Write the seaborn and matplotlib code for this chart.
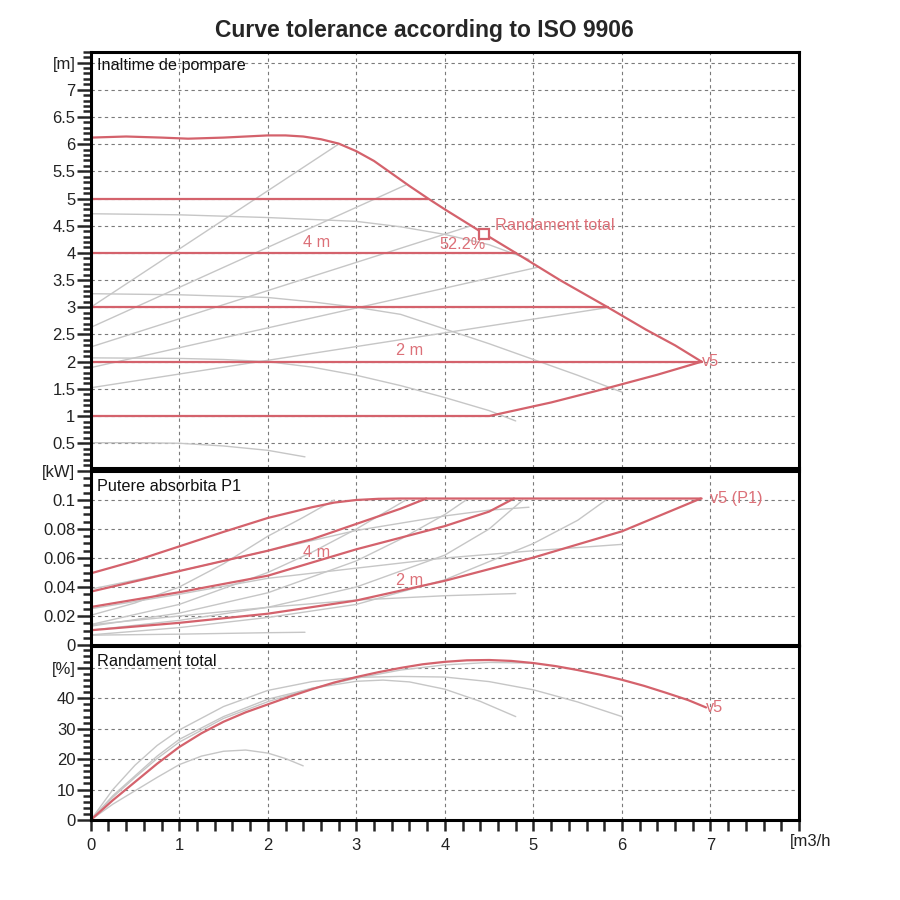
import seaborn as sns
import matplotlib.pyplot as plt
from matplotlib.ticker import MultipleLocator

# ---- head panel [m] ----
v5_q = [0, 0.4, 0.8, 1.1, 1.5, 2.0, 2.2, 2.4, 2.6, 2.8, 3.0, 3.2, 3.4, 3.6, 3.81, 4.0, 4.445,
        4.8, 5.3, 5.84, 6.27, 6.6, 6.9]
v5_h = [6.12, 6.14, 6.12, 6.10, 6.12, 6.16, 6.16, 6.14, 6.09, 6.01, 5.87, 5.69, 5.46, 5.23, 5.0,
        4.8, 4.35, 4.0, 3.5, 3.0, 2.59, 2.3, 2.0]
v5_min_q = [4.5, 5.2, 5.85, 6.4, 6.9]
v5_min_h = [1.0, 1.25, 1.52, 1.76, 2.0]
const_heads = [5, 4, 3, 2, 1]
const_ends = [3.81, 4.80, 5.84, 6.9, 4.5]

head_gray = [
    ([0, 2.8], [3.0, 6.0]),
    ([0, 3.56], [2.63, 5.25]),
    ([0, 4.3], [2.27, 4.5]),
    ([0, 5.06], [1.89, 3.74]),
    ([0, 5.82], [1.52, 2.99]),
    ([0, 1, 2, 3, 3.5, 4, 4.5, 4.95], [4.72, 4.70, 4.65, 4.58, 4.48, 4.34, 4.15, 3.88]),
    ([0, 1, 2, 2.5, 3, 3.5, 4, 4.5, 5, 5.5, 6], [3.25, 3.23, 3.18, 3.1, 3.0, 2.87, 2.6, 2.33, 2.04, 1.75, 1.44]),
    ([0, 1, 1.5, 2, 2.5, 3, 3.5, 4, 4.5, 4.8], [2.07, 2.06, 2.04, 2.0, 1.9, 1.75, 1.56, 1.34, 1.1, 0.91]),
    ([0, 0.5, 1, 1.5, 2, 2.42], [0.51, 0.51, 0.5, 0.45, 0.37, 0.25]),
]

# ---- power panel [kW] ----
p_max_q = [0, 0.5, 1, 1.5, 2, 2.5, 2.75, 3, 3.25, 3.5, 4, 5, 6, 6.9]
p_max = [0.0494, 0.058, 0.068, 0.078, 0.0876, 0.095, 0.0982, 0.1, 0.1008, 0.101, 0.101, 0.101, 0.101, 0.101]
p_5m_q = [0, 1, 2, 2.5, 3, 3.5, 3.79]
p_5m = [0.0368, 0.051, 0.065, 0.073, 0.0835, 0.094, 0.101]
p_4m_q = [0, 1, 2, 3, 3.5, 4, 4.5, 4.78]
p_4m = [0.0262, 0.0364, 0.0478, 0.066, 0.074, 0.082, 0.092, 0.101]
p_2m_q = [0, 1, 2, 3, 4, 5, 6, 6.89]
p_2m = [0.0102, 0.0153, 0.0216, 0.0307, 0.0443, 0.0603, 0.0784, 0.101]

power_gray = [
    ([0, 0.5, 1, 1.5, 2, 2.4, 2.75], [0.0205, 0.029, 0.040, 0.056, 0.075, 0.088, 0.100]),
    ([0, 1, 2, 2.5, 3, 3.56], [0.0141, 0.028, 0.050, 0.064, 0.080, 0.100]),
    ([0, 1, 2, 3, 3.5, 4, 4.24], [0.013, 0.022, 0.036, 0.058, 0.073, 0.090, 0.100]),
    ([0, 1, 2, 3, 4, 4.5, 4.88], [0.0102, 0.017, 0.026, 0.040, 0.062, 0.080, 0.100]),
    ([0, 1, 2, 3, 4, 5, 5.5, 5.82], [0.007, 0.012, 0.019, 0.028, 0.045, 0.070, 0.086, 0.100]),
    ([0, 1, 2, 3, 4, 4.5, 4.95], [0.0385, 0.051, 0.065, 0.079, 0.089, 0.093, 0.095]),
    ([0, 1, 2, 3, 4, 5, 6], [0.025, 0.035, 0.046, 0.053, 0.060, 0.065, 0.0694]),
    ([0, 1, 2, 3, 4, 4.8], [0.014, 0.020, 0.026, 0.031, 0.034, 0.0355]),
    ([0, 1, 2, 2.42], [0.0068, 0.0075, 0.0085, 0.0088]),
]

# ---- efficiency panel [%] ----
eff_q = [0, 0.25, 0.5, 0.75, 1, 1.25, 1.5, 1.75, 2, 2.25, 2.5, 2.75, 3, 3.25, 3.5, 3.75, 4,
         4.25, 4.5, 4.75, 5, 5.25, 5.5, 5.75, 6, 6.25, 6.5, 6.75, 6.95]
eff = [0, 6.5, 12.5, 18.5, 24, 28.5, 32.3, 35.4, 38, 40.6, 43, 45.2, 47, 48.6, 50, 51.2, 52,
       52.5, 52.6, 52.3, 51.6, 50.6, 49.3, 47.8, 46.1, 44.1, 41.8, 39.4, 37]

eff_gray = [
    ([0, 0.25, 0.5, 0.75, 1, 1.5, 2, 2.5, 3, 3.5, 4, 4.5, 5, 5.5, 6],
     [0, 10, 18, 24.5, 29.6, 37.3, 42.6, 45.5, 46.9, 47.2, 47, 45.5, 42.8, 38.8, 34]),
    ([0, 0.25, 0.5, 0.75, 1, 1.5, 2, 2.5, 3, 3.3, 3.6, 4, 4.4, 4.8],
     [0, 8, 14.5, 21, 26.5, 34, 39.7, 43.3, 45.6, 46, 45.4, 43, 39, 34]),
    ([0, 0.25, 0.5, 0.75, 1, 1.5, 2, 2.5, 3, 3.5, 4, 4.5, 4.95],
     [0, 7.5, 14, 20.2, 25.6, 33.4, 38.9, 43.3, 46.6, 49.3, 51, 51.8, 51.6]),
    ([0, 0.25, 0.5, 0.75, 1, 1.25, 1.5, 1.75, 2, 2.2, 2.4],
     [0, 5.2, 9.6, 14, 18.2, 21, 22.6, 23, 22, 20.2, 17.8]),
]

sns.set_style('white')
plt.rcParams['font.family'] = ['Liberation Sans', 'DejaVu Sans']

RED = '#d4626c'
LABEL_RED = '#dc7078'
GRAY = '#c6c6c6'
FS = 11.7


def line(ax, x, y, color=RED, lw=1.6):
    sns.lineplot(x=x, y=y, ax=ax, color=color, linewidth=lw, sort=False,
                 estimator=None, legend=False)


def style(ax, ylim, yticks, ylabels, minor):
    ax.set_xlim(0, 8)
    ax.set_ylim(*ylim)
    ax.set_xticks(range(0, 9))
    ax.set_yticks(yticks)
    ax.set_yticklabels(ylabels)
    ax.yaxis.set_minor_locator(MultipleLocator(minor))
    ax.xaxis.set_minor_locator(MultipleLocator(0.2))
    ax.set_axisbelow(True)
    ax.grid(True, which='major', color='#7a7a7a', linestyle=(0, (3, 3)), linewidth=0.8)
    ax.tick_params(axis='y', which='major', direction='out', length=10, width=1.8,
                   left=True, labelsize=12, labelcolor='#222222', pad=1)
    ax.tick_params(axis='y', which='minor', direction='out', length=6, width=1.8, left=True)
    ax.tick_params(axis='x', which='both', bottom=False, labelbottom=False)
    ax.set_xlabel('')
    ax.set_ylabel('')
    for s in ax.spines.values():
        s.set_linewidth(2.2)
        s.set_color('black')


fig = plt.figure(figsize=(9, 9), dpi=100)
ax_h = fig.add_axes([0.1008, 0.4803, 0.787, 0.4623])
ax_p = fig.add_axes([0.1008, 0.2833, 0.787, 0.1934])
ax_e = fig.add_axes([0.1008, 0.0889, 0.787, 0.1933])

# head
for gx, gy in head_gray:
    line(ax_h, gx, gy, GRAY, 1.0)
for h, end in zip(const_heads, const_ends):
    line(ax_h, [0, end], [h, h], RED, 1.6)
line(ax_h, [0, 0], [1, 5], RED, 1.6)
line(ax_h, v5_q, v5_h, RED, 1.6)
line(ax_h, v5_min_q, v5_min_h, RED, 1.6)
ax_h.plot([4.445], [4.35], marker='s', markersize=7, markerfacecolor='white',
          markeredgecolor=RED, markeredgewidth=1.6, zorder=5)
ax_h.text(4.57, 4.5, 'Randament total', color=LABEL_RED, fontsize=FS, va='center', ha='left')
ax_h.text(4.2, 4.15, '52.2%', color=LABEL_RED, fontsize=FS, va='center', ha='center')
ax_h.text(2.55, 4.2, '4 m', color=LABEL_RED, fontsize=FS, va='center', ha='center')
ax_h.text(3.6, 2.2, '2 m', color=LABEL_RED, fontsize=FS, va='center', ha='center')
ax_h.text(6.9, 2.0, 'v5', color=LABEL_RED, fontsize=FS, va='center', ha='left')
ax_h.text(0.009, 0.966, 'Inaltime de pompare', transform=ax_h.transAxes,
          fontsize=FS, va='center', ha='left', color='#111111')
h_ticks = [0.5 * i for i in range(1, 16)]
h_labels = [('%g' % t) for t in h_ticks[:-1]] + ['[m]']
style(ax_h, (0.05, 7.7), h_ticks, h_labels, 0.1)

# power
for gx, gy in power_gray:
    line(ax_p, gx, gy, GRAY, 1.0)
line(ax_p, p_max_q, p_max, RED, 1.6)
line(ax_p, p_5m_q, p_5m, RED, 1.6)
line(ax_p, p_4m_q, p_4m, RED, 1.6)
line(ax_p, p_2m_q, p_2m, RED, 1.6)
ax_p.text(2.55, 0.0637, '4 m', color=LABEL_RED, fontsize=FS, va='center', ha='center')
ax_p.text(3.6, 0.0443, '2 m', color=LABEL_RED, fontsize=FS, va='center', ha='center')
ax_p.text(7.0, 0.101, 'v5 (P1)', color=LABEL_RED, fontsize=FS, va='center', ha='left')
ax_p.text(0.009, 0.91, 'Putere absorbita P1', transform=ax_p.transAxes,
          fontsize=FS, va='center', ha='left', color='#111111')
style(ax_p, (0, 0.12), [0, 0.02, 0.04, 0.06, 0.08, 0.1, 0.12],
      ['0', '0.02', '0.04', '0.06', '0.08', '0.1', '[kW]'], 0.005)

# efficiency
for gx, gy in eff_gray:
    line(ax_e, gx, gy, GRAY, 1.0)
line(ax_e, eff_q, eff, RED, 1.6)
ax_e.text(6.95, 37, 'v5', color=LABEL_RED, fontsize=FS, va='center', ha='left')
ax_e.text(0.009, 0.91, 'Randament total', transform=ax_e.transAxes,
          fontsize=FS, va='center', ha='left', color='#111111')
style(ax_e, (0, 57.2), [0, 10, 20, 30, 40, 50],
      ['0', '10', '20', '30', '40', '[%]'], 2)
ax_e.set_xticklabels([str(i) for i in range(8)] + [''])
ax_e.xaxis.set_minor_locator(MultipleLocator(0.2))
ax_e.tick_params(axis='x', which='both', bottom=True, labelbottom=True, direction='out',
                 length=8, width=1.8, labelsize=12, labelcolor='#222222', pad=5)
ax_e.text(0.987, -0.125, '[m3/h', transform=ax_e.transAxes, fontsize=12,
          color='#222222', ha='left', va='center')

fig.text(0.471, 0.966, 'Curve tolerance according to ISO 9906', ha='center', va='center',
         fontsize=16.5, fontweight='bold')

fig.savefig('out.png', dpi=100)
